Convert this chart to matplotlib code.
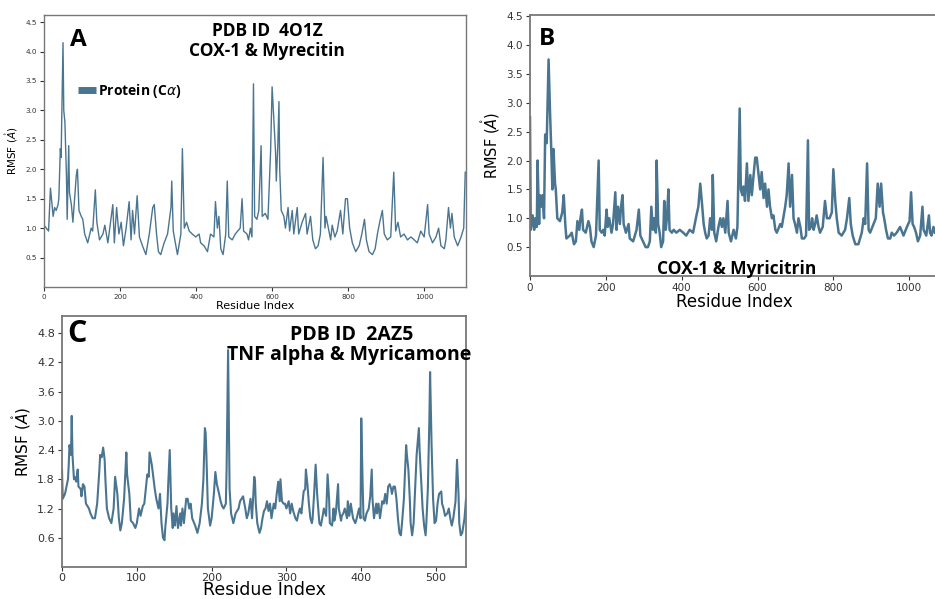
import matplotlib
matplotlib.use("Agg")
import matplotlib.pyplot as plt
from matplotlib.lines import Line2D

# ---------------- data ----------------
resA = [0, 6, 12, 17, 24, 28, 32, 37, 39, 43, 45, 50, 52, 55, 59, 61, 65, 67, 72, 76,
        85, 88, 92, 98, 102, 107, 115, 124, 128, 135, 139, 146, 155, 160, 168, 181, 185, 191, 197, 203,
        209, 216, 224, 229, 233, 238, 245, 251, 259, 268, 277, 286, 290, 296, 301, 307, 316, 325, 334, 336,
        340, 347, 351, 360, 364, 369, 375, 382, 390, 399, 408, 412, 421, 430, 438, 447, 451, 456, 460, 465,
        471, 478, 482, 486, 495, 503, 516, 521, 525, 534, 538, 543, 547, 551, 554, 560, 565, 571, 574, 582,
        589, 593, 596, 600, 604, 609, 611, 615, 618, 620, 624, 631, 635, 642, 646, 653, 657, 666, 670, 679,
        688, 692, 701, 707, 714, 721, 727, 734, 739, 742, 748, 754, 758, 765, 771, 780, 786, 793, 798, 804,
        811, 820, 829, 836, 843, 848, 855, 864, 871, 877, 883, 890, 895, 903, 912, 920, 925, 931, 938, 947,
        956, 965, 974, 982, 991, 1000, 1009, 1013, 1022, 1031, 1038, 1044, 1053, 1057, 1064, 1069, 1073, 1079, 1088, 1097,
        1104, 1108]
rmsfA = [1.05, 1.0, 0.95, 1.68, 1.2, 1.35, 1.3, 1.4, 1.5, 2.35, 2.2, 4.15, 3.0, 2.8, 1.9, 1.15, 2.4, 1.6, 1.4, 1.1,
         1.9, 2.0, 1.3, 1.2, 1.15, 0.9, 0.75, 1.0, 0.95, 1.65, 1.1, 0.8, 0.9, 1.05, 0.75, 1.4, 0.75, 1.35, 0.9, 1.1,
         0.7, 1.0, 1.45, 0.8, 1.3, 0.9, 1.55, 0.85, 0.7, 0.55, 0.9, 1.35, 1.4, 0.9, 0.6, 0.55, 0.75, 0.9, 1.35, 1.8,
         0.95, 0.7, 0.55, 0.9, 2.35, 1.0, 1.1, 0.95, 0.9, 0.85, 0.9, 0.75, 0.7, 0.6, 0.9, 0.85, 1.45, 1.0, 1.2, 0.65,
         0.55, 0.9, 1.8, 0.85, 0.8, 0.9, 1.0, 1.5, 0.95, 0.9, 0.8, 1.0, 0.85, 3.45, 1.2, 1.15, 1.3, 2.4, 1.2, 1.25,
         1.15, 1.8, 2.3, 3.4, 2.9, 2.3, 1.8, 2.4, 3.15, 2.0, 1.3, 1.2, 1.0, 1.35, 0.95, 1.3, 0.9, 1.35, 0.9, 1.1,
         1.25, 0.9, 1.2, 0.8, 0.65, 0.7, 0.9, 2.2, 1.0, 1.2, 1.0, 0.8, 1.05, 0.85, 0.95, 1.3, 0.9, 1.5, 1.5, 1.0,
         0.75, 0.6, 0.7, 0.9, 1.15, 0.8, 0.6, 0.55, 0.65, 0.9, 1.1, 1.3, 0.9, 0.8, 0.85, 1.95, 0.95, 1.1, 0.85, 0.9,
         0.8, 0.85, 0.8, 0.75, 0.95, 0.85, 1.4, 0.9, 0.75, 0.85, 1.0, 0.7, 0.65, 0.8, 1.35, 1.0, 1.25, 0.85, 0.7, 0.85,
         1.0, 1.95]

resB = [0, 2, 7, 11, 14, 18, 20, 24, 26, 30, 33, 37, 40, 44, 46, 49, 53, 56, 59, 62,
        66, 68, 72, 79, 85, 89, 93, 96, 105, 110, 116, 121, 125, 130, 133, 137, 140, 147, 154, 158,
        162, 168, 174, 181, 184, 189, 193, 197, 202, 205, 209, 215, 219, 225, 228, 232, 237, 240, 244, 247,
        253, 260, 263, 272, 281, 287, 291, 298, 305, 311, 316, 320, 324, 327, 332, 334, 338, 342, 346, 351,
        354, 358, 361, 365, 368, 374, 379, 386, 395, 404, 412, 421, 430, 439, 444, 449, 453, 458, 462, 466,
        471, 475, 480, 482, 486, 491, 497, 502, 506, 510, 515, 521, 524, 530, 537, 543, 547, 553, 556, 560,
        563, 567, 572, 576, 581, 585, 589, 594, 598, 603, 607, 611, 616, 620, 625, 629, 633, 638, 642, 647,
        651, 660, 664, 673, 677, 682, 686, 691, 695, 699, 704, 708, 713, 717, 723, 728, 733, 736, 741, 744,
        748, 752, 756, 761, 765, 772, 778, 783, 790, 796, 800, 805, 809, 814, 822, 831, 836, 842, 846, 851,
        858, 866, 875, 880, 884, 889, 893, 897, 906, 912, 917, 922, 926, 931, 934, 939, 944, 950, 954, 960,
        967, 976, 985, 994, 1001, 1005, 1009, 1013, 1018, 1023, 1029, 1035, 1038, 1045, 1052, 1055, 1059, 1064, 1068]
rmsfB = [2.75, 0.8, 1.05, 0.8, 1.0, 0.85, 2.0, 0.9, 1.4, 1.2, 1.4, 1.0, 2.45, 2.3, 2.9, 3.75, 2.8, 2.2, 1.5, 2.2,
         1.6, 1.5, 1.0, 0.95, 1.1, 1.4, 0.9, 0.65, 0.7, 0.75, 0.55, 0.6, 0.95, 0.8, 1.0, 1.15, 0.8, 0.75, 0.95, 0.85,
         0.6, 0.5, 0.7, 2.0, 0.8, 0.75, 0.8, 0.7, 1.15, 0.85, 1.0, 0.75, 0.9, 1.45, 0.8, 1.2, 0.9, 1.2, 1.4, 0.9,
         0.75, 0.9, 0.65, 0.6, 0.8, 1.15, 0.7, 0.6, 0.5, 0.5, 0.6, 1.2, 0.8, 1.0, 0.75, 2.0, 0.9, 0.75, 0.5, 0.6,
         1.3, 0.8, 1.0, 1.5, 0.8, 0.75, 0.8, 0.75, 0.8, 0.75, 0.7, 0.8, 0.75, 1.05, 1.2, 1.6, 1.3, 0.9, 0.75, 0.65,
         0.7, 1.0, 0.8, 1.75, 0.75, 0.6, 0.85, 1.0, 0.85, 1.0, 0.75, 1.3, 0.75, 0.6, 0.8, 0.65, 0.85, 2.9, 1.5, 1.4,
         1.55, 1.3, 1.95, 1.3, 1.75, 1.4, 1.7, 2.05, 2.05, 1.75, 1.5, 1.8, 1.35, 1.6, 1.2, 1.5, 1.2, 1.0, 1.05, 0.8,
         0.75, 0.9, 0.85, 1.2, 1.4, 1.95, 1.2, 1.75, 1.0, 0.9, 0.75, 1.0, 0.85, 0.65, 0.65, 0.7, 2.35, 0.8, 0.85, 1.0,
         0.8, 0.9, 1.05, 0.85, 0.75, 0.85, 1.3, 1.0, 1.0, 1.1, 1.85, 1.3, 1.0, 0.75, 0.7, 0.8, 1.0, 1.35, 0.9, 0.7,
         0.55, 0.55, 0.75, 1.0, 0.9, 1.95, 0.8, 0.75, 0.9, 1.0, 1.6, 1.2, 1.6, 1.1, 1.0, 0.8, 0.65, 0.65, 0.75, 0.7,
         0.75, 0.85, 0.7, 0.85, 0.95, 1.45, 0.9, 0.85, 0.75, 0.6, 0.7, 1.2, 0.8, 0.7, 1.05, 0.75, 0.7, 0.85, 0.75]

resC = [0, 1, 4, 6, 8, 9, 10, 12, 13, 14, 16, 17, 19, 21, 22, 25, 26, 28, 30, 32,
        34, 36, 38, 41, 44, 47, 50, 51, 53, 55, 57, 58, 60, 63, 66, 69, 71, 74, 76, 78,
        80, 83, 86, 87, 90, 92, 95, 98, 100, 103, 105, 108, 110, 112, 114, 116, 117, 120, 122, 124,
        126, 129, 131, 133, 135, 137, 138, 141, 142, 144, 146, 148, 149, 151, 153, 155, 158, 159, 161, 163,
        166, 168, 170, 172, 174, 178, 181, 184, 187, 189, 191, 192, 193, 195, 198, 200, 203, 205, 207, 210,
        212, 214, 216, 219, 220, 222, 224, 226, 229, 232, 234, 236, 238, 240, 242, 245, 247, 249, 252, 254,
        257, 258, 259, 261, 264, 266, 268, 270, 272, 274, 276, 278, 280, 283, 285, 287, 289, 291, 292, 294,
        296, 298, 300, 303, 305, 307, 309, 312, 314, 316, 318, 320, 323, 325, 326, 328, 330, 332, 334, 335,
        337, 339, 341, 344, 346, 349, 350, 353, 355, 357, 358, 361, 363, 364, 366, 369, 370, 373, 374, 376,
        378, 381, 382, 384, 386, 389, 392, 394, 397, 399, 400, 402, 403, 405, 407, 410, 412, 414, 415, 417,
        420, 421, 423, 425, 428, 430, 432, 434, 436, 438, 440, 441, 443, 445, 447, 449, 451, 453, 455, 457,
        460, 461, 463, 465, 466, 468, 470, 472, 474, 477, 478, 480, 482, 484, 486, 487, 489, 491, 492, 494,
        496, 498, 500, 502, 504, 507, 508, 510, 512, 515, 517, 519, 521, 523, 526, 528, 530, 531, 533, 535,
        538, 540]
rmsfC = [2.0, 1.4, 1.5, 1.65, 1.8, 2.1, 2.5, 2.3, 3.1, 2.3, 1.8, 1.85, 1.75, 2.0, 1.65, 1.6, 1.45, 1.7, 1.65, 1.3,
         1.25, 1.2, 1.1, 1.0, 1.0, 1.3, 2.0, 2.3, 2.25, 2.45, 2.2, 1.8, 1.2, 1.0, 0.9, 1.2, 1.85, 1.5, 1.0, 0.75,
         0.9, 1.4, 2.35, 1.9, 1.5, 0.95, 0.9, 0.8, 0.9, 1.2, 1.05, 1.25, 1.3, 1.6, 1.9, 1.85, 2.35, 2.1, 1.85, 1.6,
         1.4, 1.2, 1.5, 0.9, 0.6, 0.55, 0.8, 1.3, 1.7, 2.4, 1.2, 0.8, 1.1, 0.85, 1.25, 0.8, 1.1, 0.85, 1.2, 0.9,
         1.4, 1.4, 1.2, 1.3, 1.0, 0.85, 0.7, 0.9, 1.3, 1.8, 2.85, 2.75, 2.3, 1.2, 0.85, 1.0, 1.5, 1.95, 1.7, 1.5,
         1.35, 1.25, 1.2, 1.3, 2.0, 4.45, 1.6, 1.1, 0.9, 1.1, 1.15, 1.2, 1.35, 1.4, 1.45, 1.2, 1.0, 1.1, 1.4, 1.0,
         1.85, 1.75, 1.3, 0.9, 0.7, 0.8, 1.0, 1.15, 1.2, 1.35, 1.15, 1.3, 1.0, 1.3, 1.2, 1.5, 1.75, 1.35, 1.8, 1.35,
         1.3, 1.3, 1.2, 1.35, 1.1, 1.3, 1.15, 1.0, 0.95, 1.1, 1.2, 1.1, 1.55, 1.6, 2.0, 1.7, 1.3, 1.0, 0.9, 1.0,
         1.5, 2.1, 1.5, 0.9, 0.85, 1.1, 1.2, 1.05, 1.9, 1.4, 0.9, 0.85, 1.2, 0.95, 1.1, 1.7, 1.2, 0.95, 1.05, 1.1,
         1.2, 1.0, 1.35, 1.05, 1.3, 1.0, 0.9, 1.0, 1.2, 1.0, 3.05, 1.6, 1.0, 0.95, 1.1, 1.2, 1.45, 2.0, 1.4, 1.0,
         1.3, 1.1, 1.3, 1.0, 1.35, 1.3, 1.5, 1.3, 1.65, 1.7, 1.6, 1.5, 1.65, 1.65, 1.4, 1.0, 0.7, 0.65, 1.0, 1.4,
         2.5, 2.3, 2.0, 1.35, 0.9, 0.65, 0.9, 1.6, 2.3, 2.85, 2.4, 1.8, 1.2, 0.85, 0.65, 0.9, 1.6, 3.0, 4.0, 2.5,
         1.4, 0.9, 0.95, 1.3, 1.5, 1.55, 1.3, 1.2, 1.05, 1.1, 1.2, 1.0, 0.85, 1.0, 1.35, 2.2, 1.5, 0.9, 0.65, 0.7,
         1.0, 1.4]

ticksA_y = [0.5, 1.0, 1.5, 2.0, 2.5, 3.0, 3.5, 4.0, 4.5]
ticksA_x = [0, 200, 400, 600, 800, 1000]
ticksB_y = [0.5, 1.0, 1.5, 2.0, 2.5, 3.0, 3.5, 4.0, 4.5]
ticksB_x = [0, 200, 400, 600, 800, 1000]
ticksC_y = [0.6, 1.2, 1.8, 2.4, 3.0, 3.6, 4.2, 4.8]
ticksC_x = [0, 100, 200, 300, 400, 500]

# ---------------- figure ----------------
W, H = 935, 599
fig = plt.figure(figsize=(W / 100, H / 100), dpi=100)
LINE = '#4a7591'
SPINE = '#777777'
BOLD = dict(family=['Open Sans', 'DejaVu Sans'], fontweight='bold', color='black')


def px_axes(x0, y0, x1, y1):
    return fig.add_axes([x0 / W, 1 - y1 / H, (x1 - x0) / W, (y1 - y0) / H])


def ftext(x, y, s, size, **kw):
    d = dict(BOLD)
    d.update(kw)
    fig.text(x / W, 1 - y / H, s, fontsize=size, ha='center', va='center', **d)


def style(ax, tick_size, lw=1.0):
    for s in ax.spines.values():
        s.set_color(SPINE)
        s.set_linewidth(lw)
    ax.tick_params(labelsize=tick_size, colors='#333333', length=3, width=0.8, pad=2)


# Panel A
axA = px_axes(44, 15, 466, 287)
axA.plot(resA, rmsfA, color=LINE, lw=1.0)
axA.set_xlim(0, 1110)
axA.set_ylim(0, 4.62)
axA.set_xticks(ticksA_x)
axA.set_yticks(ticksA_y)
style(axA, 5.2)
axA.set_xlabel('Residue Index', fontsize=8, labelpad=1)
axA.set_ylabel(r'RMSF ($\mathring{A}$)', fontsize=7.5, labelpad=4)
handle = Line2D([], [], color=LINE, lw=5, solid_capstyle='butt')
axA.legend([handle], ['Protein (C$\\alpha$)'], loc='upper left', bbox_to_anchor=(0.05, 0.80),
           frameon=False, handlelength=1.3, handletextpad=0.2,
           prop=dict(family=['Open Sans', 'DejaVu Sans'], weight='bold', size=10))

# Panel B
axB = px_axes(530, 15, 938, 276)
axB.plot(resB, rmsfB, color=LINE, lw=1.8)
axB.set_xlim(0, 1076)
axB.set_ylim(0, 4.52)
axB.set_xticks(ticksB_x)
axB.set_yticks(ticksB_y)
style(axB, 7.5, lw=1.3)
axB.set_xlabel('Residue Index', fontsize=12, labelpad=0)
axB.set_ylabel(r'RMSF ($\mathring{A}$)', fontsize=10.5, labelpad=3)

# Panel C
axC = px_axes(62, 316, 466, 567)
axC.plot(resC, rmsfC, color=LINE, lw=1.5)
axC.set_xlim(0, 540)
axC.set_ylim(0, 5.15)
axC.set_xticks(ticksC_x)
axC.set_yticks(ticksC_y)
style(axC, 8, lw=1.3)
axC.tick_params(axis='x', pad=1)
axC.set_xlabel('Residue Index', fontsize=12.5, labelpad=-1)
axC.set_ylabel(r'RMSF ($\mathring{A}$)', fontsize=11, labelpad=3)

# Panel letters and titles
ftext(78, 40, 'A', 17.5)
ftext(547, 39, 'B', 17.5)
ftext(77, 334, 'C', 22)
ftext(267, 31, 'PDB ID  4O1Z', 12.5)
ftext(267, 51, 'COX-1 & Myrecitin', 12.5)
ftext(737, 269, 'COX-1 & Myricitrin', 12.5)
ftext(352, 335, 'PDB ID  2AZ5', 14)
ftext(349, 355, 'TNF alpha & Myricamone', 14)

fig.savefig('out.png', dpi=100, facecolor='white')
